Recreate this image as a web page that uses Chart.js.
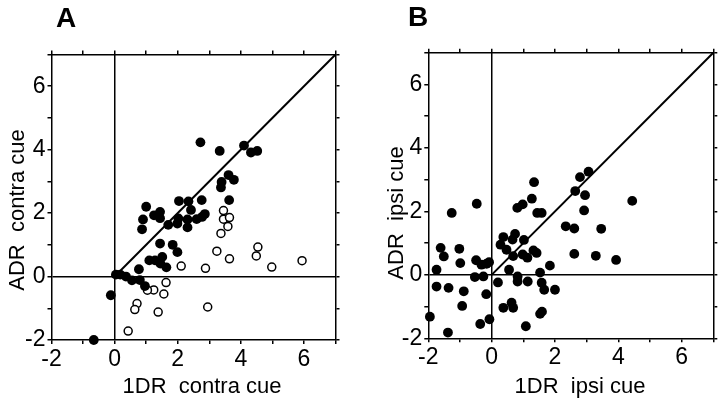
<!DOCTYPE html>
<html>
<head>
<meta charset="utf-8">
<script src="https://cdn.jsdelivr.net/npm/chart.js@4.4.0/dist/chart.umd.min.js"></script>
<style>
body { margin: 0; background: #fff; }
#wrap { position: relative; width: 720px; height: 400px; overflow: hidden; font-family: "Liberation Sans", Arial, sans-serif; color: #000; }
.panel { position: absolute; top: 0; width: 360px; height: 400px; }
.letter { position: absolute; font-weight: bold; font-size: 28px; line-height: 28px; }
.xt, .yt { position: absolute; width: 240px; height: 26px; line-height: 26px; font-size: 22px; text-align: center; white-space: pre; }
.yt { transform: rotate(-90deg); }
</style>
</head>
<body>
<div id="wrap">
  <div class="panel" style="left:0"><canvas id="chartA" width="360" height="400"></canvas></div>
  <div class="panel" style="left:360px"><canvas id="chartB" width="360" height="400"></canvas></div>
  <div class="letter" style="left:56px; top:4px">A</div>
  <div class="letter" style="left:408px; top:3px">B</div>
  <div class="xt" style="left:82px; top:373px">1DR  contra cue</div>
  <div class="yt" style="left:-103px; top:197px">ADR  contra cue</div>
  <div class="xt" style="left:460px; top:373px">1DR  ipsi cue</div>
  <div class="yt" style="left:276px; top:200px">ADR  ipsi cue</div>
</div>
<script>
// axis range and labelled ticks (same for both panels)
var axisMin = -2;
var axisMax = 7;
var tickLabels = [-2, 0, 2, 4, 6];
var diagonal = [0, 7];

// panel A, filled circles
var aSolidX = [2.72, 3.33, 4.10, 4.32, 4.52, 3.39, 3.37, 3.61, 3.78, 3.63, 2.76, 2.04, 2.34, 2.42,
  1.00, 0.90, 0.87, 1.25, 1.44, 1.44, 1.70, 2.02, 1.99, 2.31, 2.31, 2.60, 2.77, 2.86,
  1.44, 1.84, 1.99, 1.10, 1.28, 1.51, 1.45, 1.64, 0.77, 0.04, 0.18, 0.36, 0.55, 0.80, 0.96, -0.12, -0.66];
var aSolidY = [4.23, 3.96, 4.13, 3.91, 3.96, 2.98, 2.81, 3.20, 3.05, 2.41, 2.41, 2.38, 2.37, 2.10,
  2.20, 1.80, 1.49, 1.93, 2.04, 1.84, 1.63, 1.83, 1.67, 1.80, 1.55, 1.81, 1.88, 1.97,
  1.04, 1.00, 0.77, 0.51, 0.51, 0.62, 0.41, 0.29, 0.23, 0.06, 0.06, 0.00, -0.12, -0.11, -0.30, -0.59, -2.00];

// panel A, open circles
var aOpenX = [3.45, 3.45, 3.64, 3.59, 3.37, 3.24, 3.64, 4.54, 4.49, 5.94, 4.98, 2.88, 2.11,
  1.63, 1.56, 1.24, 1.04, 1.38, 2.95, 0.71, 0.64, 0.43];
var aOpenY = [2.08, 1.81, 1.86, 1.58, 1.36, 0.80, 0.56, 0.93, 0.65, 0.50, 0.30, 0.26, 0.33,
  -0.19, -0.55, -0.42, -0.43, -1.12, -0.96, -0.85, -1.04, -1.72];

// panel B, filled circles
var bX = [-1.95, -1.38, -1.74, -1.74, -1.61, -1.51, -1.26, -1.36, -1.02, -0.99, -0.88, -0.93,
  -0.47, -0.49, -0.53, -0.32, -0.26, -0.16, -0.08, -0.17, -0.36, -0.07,
  0.20, 0.28, 0.37, 0.47, 0.74, 0.66, 0.55, 0.68, 0.37, 0.63, 0.68,
  0.81, 0.98, 1.27, 1.34, 1.44, 1.58, 1.02, 0.82, 0.82, 0.98, 1.13, 1.32, 1.42, 1.14,
  1.53, 1.58, 1.66, 1.84, 2.00, 1.53, 1.59, 1.08,
  2.34, 2.61, 2.64, 2.79, 3.06, 2.95, 2.92, 2.61, 3.29, 3.46, 3.93, 4.44];
var bY = [-1.32, -1.82, 0.16, -0.37, 0.85, 0.58, 1.95, -0.41, 0.82, 0.37, -0.52, -0.98,
  2.24, 0.46, -0.07, 0.32, -0.05, 0.35, 0.40, -0.61, -1.55, -1.40,
  -0.24, 0.95, 1.19, 0.79, 1.29, 1.11, 0.16, 0.59, -1.04, -0.88, -1.04,
  2.11, 2.22, 2.40, 2.92, 1.95, 1.95, 1.10, -0.05, -0.21, 0.64, 0.54, 0.77, 0.69, -0.21,
  0.07, -0.25, -0.47, 0.29, -0.47, -1.23, -1.16, -1.62,
  1.53, 1.46, 2.64, 3.08, 3.25, 2.51, 2.03, 0.66, 0.60, 1.45, 0.47, 2.33];

Chart.defaults.font.family = '"Liberation Sans", Arial, sans-serif';
Chart.defaults.font.size = 23;
Chart.defaults.color = '#000';

function toPoints(xs, ys) {
  var pts = [];
  for (var i = 0; i < xs.length; i++) {
    pts.push({ x: xs[i], y: ys[i] });
  }
  return pts;
}

// one axis; main axes also draw the zero line, the opposite ones only tick marks
function makeAxis(pos, size, main) {
  var horizontal = (pos === 'top' || pos === 'bottom');
  return {
    type: 'linear',
    position: pos,
    min: axisMin,
    max: axisMax,
    afterFit: function (scale) {
      if (horizontal) scale.height = size; else scale.width = size;
    },
    border: { display: true, color: '#000', width: 1.5 },
    grid: {
      drawOnChartArea: main,
      color: function (c) { return c.tick && c.tick.value === 0 ? '#000' : 'rgba(0,0,0,0)'; },
      lineWidth: 1.5,
      tickColor: '#000',
      tickWidth: 1.5,
      tickLength: 4
    },
    ticks: {
      display: main,
      stepSize: 1,
      autoSkip: false,
      maxRotation: 0,
      padding: 2,
      callback: function (v) { return tickLabels.indexOf(v) >= 0 ? String(v) : ''; }
    }
  };
}

function makePanel(id, sets, box) {
  var datasets = sets.map(function (s) {
    return {
      type: 'scatter',
      data: s.points,
      pointRadius: s.open ? 4.0 : 4.9,
      pointBackgroundColor: s.open ? '#fff' : '#000',
      pointBorderColor: '#000',
      pointBorderWidth: s.open ? 1.5 : 0,
      clip: false
    };
  });
  datasets.unshift({
    type: 'line',
    data: toPoints(diagonal, diagonal),
    borderColor: '#000',
    borderWidth: 2,
    pointRadius: 0,
    fill: false
  });

  new Chart(document.getElementById(id), {
    data: { datasets: datasets },
    options: {
      responsive: false,
      animation: false,
      layout: { padding: 0 },
      plugins: { legend: { display: false }, tooltip: { enabled: false } },
      scales: {
        x: makeAxis('bottom', box.bottom, true),
        y: makeAxis('left', box.left, true),
        x2: makeAxis('top', box.top, false),
        y2: makeAxis('right', box.right, false)
      }
    }
  });
}

makePanel('chartA', [
  { points: toPoints(aSolidX, aSolidY), open: false },
  { points: toPoints(aOpenX, aOpenY), open: true }
], { left: 51.5, right: 24.5, top: 54.5, bottom: 60 });

makePanel('chartB', [
  { points: toPoints(bX, bY), open: false }
], { left: 68.3, right: 6.7, top: 52.7, bottom: 61.7 });
</script>
</body>
</html>
